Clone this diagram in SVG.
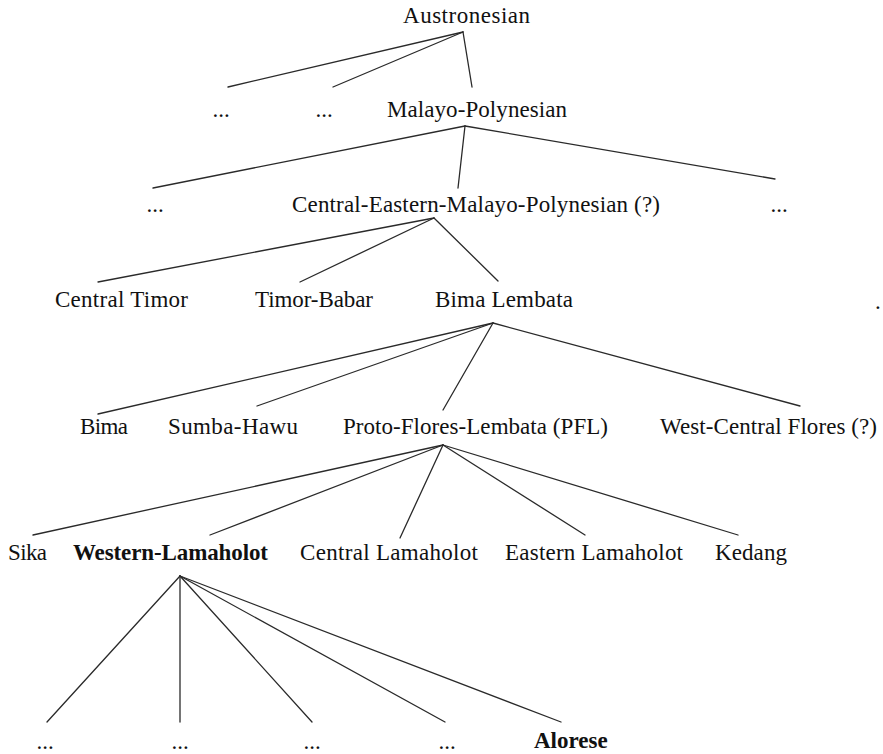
<svg xmlns="http://www.w3.org/2000/svg" width="883" height="754" viewBox="0 0 883 754">
<style>
text{font-family:"Liberation Serif","Times New Roman",serif;font-size:23px;fill:#111111}
.b{font-weight:bold}
.e{text-anchor:middle}
#connectors line{stroke:#2a2a2a;stroke-width:1.3;fill:none;stroke-linecap:round}
</style>
<rect width="883" height="754" fill="#ffffff"/>
<g id="connectors">
<line x1="463" y1="32" x2="228" y2="87"/>
<line x1="463" y1="32" x2="333" y2="87"/>
<line x1="463" y1="32" x2="472" y2="87"/>
<line x1="465" y1="126" x2="153" y2="188"/>
<line x1="465" y1="126" x2="458" y2="188"/>
<line x1="465" y1="126" x2="775" y2="179"/>
<line x1="434" y1="218" x2="98" y2="282"/>
<line x1="434" y1="218" x2="300" y2="282"/>
<line x1="434" y1="218" x2="498" y2="281"/>
<line x1="493" y1="323" x2="98" y2="414"/>
<line x1="493" y1="323" x2="257" y2="406"/>
<line x1="493" y1="323" x2="443" y2="410"/>
<line x1="493" y1="323" x2="800" y2="406"/>
<line x1="443" y1="445" x2="33" y2="535"/>
<line x1="443" y1="445" x2="210" y2="535"/>
<line x1="443" y1="445" x2="400" y2="538"/>
<line x1="443" y1="445" x2="585" y2="535"/>
<line x1="443" y1="445" x2="738" y2="535"/>
<line x1="180" y1="576" x2="47" y2="722"/>
<line x1="180" y1="576" x2="180" y2="722"/>
<line x1="180" y1="576" x2="312" y2="722"/>
<line x1="180" y1="576" x2="445" y2="722"/>
<line x1="180" y1="576" x2="561" y2="722"/>
</g>
<g id="austronesian"><text x="403" y="23" textLength="127">Austronesian</text></g>
<g id="dots-1a"><text x="221" y="117" class="e">...</text></g>
<g id="dots-1b"><text x="324" y="117" class="e">...</text></g>
<g id="malayo-polynesian"><text x="387" y="117" textLength="180">Malayo-Polynesian</text></g>
<g id="dots-2a"><text x="155" y="212" class="e">...</text></g>
<g id="cemp"><text x="292" y="212" textLength="368">Central-Eastern-Malayo-Polynesian (?)</text></g>
<g id="dots-2b"><text x="779" y="212" class="e">...</text></g>
<g id="central-timor"><text x="55" y="307" textLength="133">Central Timor</text></g>
<g id="timor-babar"><text x="255" y="307" textLength="118">Timor-Babar</text></g>
<g id="bima-lembata"><text x="435" y="307" textLength="138">Bima Lembata</text></g>
<g id="stray-dot"><text x="875" y="309">.</text></g>
<g id="bima"><text x="80" y="434" textLength="48">Bima</text></g>
<g id="sumba-hawu"><text x="168" y="434" textLength="130">Sumba-Hawu</text></g>
<g id="pfl"><text x="343" y="434" textLength="265">Proto-Flores-Lembata (PFL)</text></g>
<g id="west-central-flores"><text x="660" y="434" textLength="217">West-Central Flores (?)</text></g>
<g id="sika"><text x="8" y="560" textLength="39">Sika</text></g>
<g id="western-lamaholot"><text x="73" y="560" class="b" textLength="195">Western-Lamaholot</text></g>
<g id="central-lamaholot"><text x="300" y="560" textLength="178">Central Lamaholot</text></g>
<g id="eastern-lamaholot"><text x="505" y="560" textLength="178">Eastern Lamaholot</text></g>
<g id="kedang"><text x="715" y="560" textLength="72">Kedang</text></g>
<g id="dots-6a"><text x="45" y="749" class="e">...</text></g>
<g id="dots-6b"><text x="180" y="749" class="e">...</text></g>
<g id="dots-6c"><text x="312" y="749" class="e">...</text></g>
<g id="dots-6d"><text x="447" y="749" class="e">...</text></g>
<g id="alorese"><text x="534" y="748" class="b">Alorese</text></g>
</svg>
